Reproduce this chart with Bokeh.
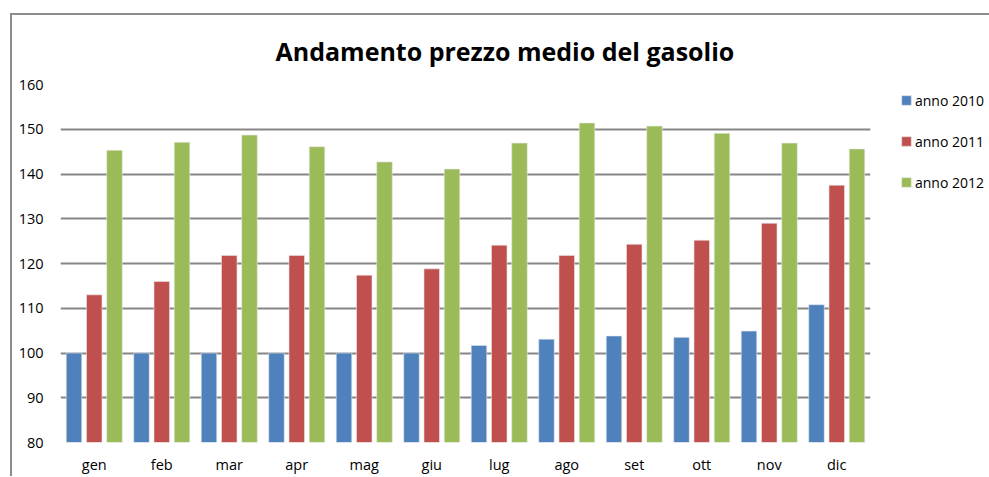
from bokeh.plotting import figure
from bokeh.models import ColumnDataSource, FactorRange, Range1d, Legend, LegendItem, SingleIntervalTicker
from bokeh.transform import dodge
from bokeh.embed import file_html
from bokeh.resources import INLINE

months = ["gen", "feb", "mar", "apr", "mag", "giu", "lug", "ago", "set", "ott", "nov", "dic"]
anno_2010 = [100, 100, 100, 100, 100, 100, 101.7, 103.1, 103.8, 103.5, 104.9, 110.8]
anno_2011 = [113, 116, 121.8, 121.8, 117.4, 118.8, 124.1, 121.8, 124.3, 125.2, 129.0, 137.5]
anno_2012 = [145.3, 147.1, 148.7, 146.1, 142.7, 141.1, 146.9, 151.4, 150.7, 149.1, 146.9, 145.6]
series_names = ["anno 2010", "anno 2011", "anno 2012"]
colors = ["#4F81BD", "#C0504D", "#9BBB59"]

src = ColumnDataSource(dict(month=months, a2010=anno_2010, a2011=anno_2011, a2012=anno_2012))

FONT = "Open Sans"
p = figure(x_range=FactorRange(*months, range_padding=0), y_range=Range1d(80, 160),
           width=976, height=460, frame_width=810, frame_height=358,
           min_border_left=48, min_border_right=118, min_border_top=69, min_border_bottom=33,
           output_backend="svg", toolbar_location=None,
           title="Andamento prezzo medio del gasolio", margin=(13, 0, 0, 10))
p.styles = {"border-top": "2px solid #8c8c8c", "border-left": "2px solid #8c8c8c"}
p.title.align = "left"
p.title.text_font = FONT
p.title.text_font_size = "25px"
p.title.text_font_style = "bold"
p.title.text_color = "black"
p.title.offset = 215
p.title.standoff = 33

renderers = []
for col, off, c in zip(["a2010", "a2011", "a2012"], [-0.3, 0.0, 0.3], colors):
    r = p.vbar(x=dodge("month", off, range=p.x_range), top=col, bottom=80, width=0.23,
               source=src, fill_color=c, line_color="#e8e8e8", line_width=0.6)
    renderers.append(r)

p.outline_line_color = None
p.xgrid.grid_line_color = None
p.ygrid.grid_line_color = "#868686"
p.ygrid.grid_line_width = 2
p.yaxis.ticker = SingleIntervalTicker(interval=10)
for ax in (p.xaxis[0], p.yaxis[0]):
    ax.axis_line_color = None
    ax.major_tick_line_color = None
    ax.minor_tick_line_color = None
    ax.major_label_text_font = FONT
    ax.major_label_text_font_size = "14.5px"
    ax.major_label_text_color = "black"
p.yaxis.major_label_standoff = 11
p.xaxis.major_label_standoff = 6

legend = Legend(items=[LegendItem(label=n, renderers=[r]) for n, r in zip(series_names, renderers)],
                location=(30, 250), border_line_color=None, background_fill_alpha=0,
                padding=0, margin=0, spacing=21, glyph_width=12, glyph_height=12,
                label_height=20, label_standoff=3, label_text_font=FONT,
                label_text_font_size="14px", label_text_color="black")
p.add_layout(legend, "right")

open("out.html", "w").write(file_html(p, INLINE))
